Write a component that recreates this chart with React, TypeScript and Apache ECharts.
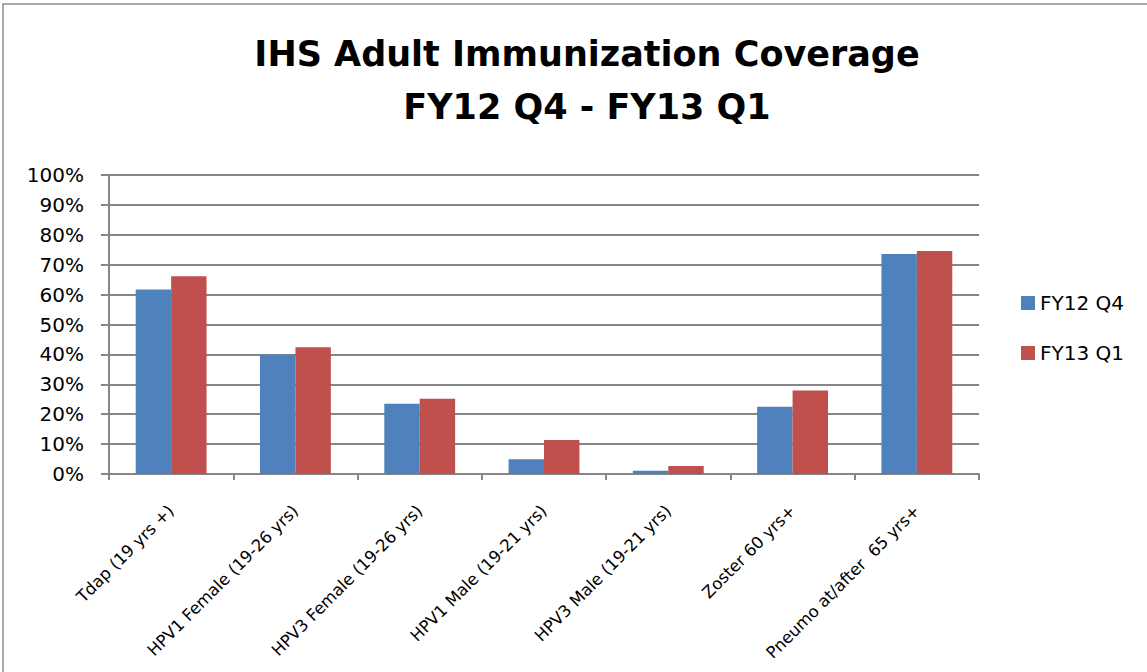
import React, { useEffect, useRef } from "react";
import * as echarts from "echarts";

const categories = [
  "Tdap (19 yrs +)",
  "HPV1 Female (19-26 yrs)",
  "HPV3 Female (19-26 yrs)",
  "HPV1 Male (19-21 yrs)",
  "HPV3 Male (19-21 yrs)",
  "Zoster 60 yrs+",
  "Pneumo at/after  65 yrs+",
];
const fy12q4 = [61.7, 40.0, 23.5, 4.9, 1.1, 22.5, 73.6];
const fy13q1 = [66.1, 42.4, 25.2, 11.4, 2.7, 27.9, 74.6];
const seriesNames = ["FY12 Q4", "FY13 Q1"];
const titleLines = ["IHS Adult Immunization Coverage", "FY12 Q4 - FY13 Q1"];

const FONT = "DejaVu Sans";
const GRAY = "#868686";

export default function App() {
  const ref = useRef<HTMLDivElement>(null);
  useEffect(() => {
    document.body.style.margin = "0";
    const chart = echarts.init(ref.current!, null, { renderer: "svg" });
    chart.setOption({
      animation: false,
      backgroundColor: "#ffffff",
      textStyle: { fontFamily: FONT, color: "#000" },
      title: {
        text: titleLines.join("\n"),
        left: 582,
        textAlign: "center",
        top: 22,
        textStyle: {
          fontFamily: FONT,
          fontWeight: "bold",
          fontSize: 35,
          lineHeight: 53,
          color: "#000",
        },
      },
      legend: {
        orient: "vertical",
        left: 1016,
        top: 288,
        itemWidth: 14,
        itemHeight: 14,
        itemGap: 30,
        icon: "rect",
        textStyle: { fontFamily: FONT, fontSize: 20, color: "#000" },
        data: seriesNames,
      },
      graphic: [
        {
          type: "rect",
          shape: { x: 3, y: 4, width: 1160, height: 690 },
          style: { fill: "none", stroke: "#8c8c8c", lineWidth: 1.5 },
          silent: true,
        },
      ],
      grid: { left: 109, right: 168, top: 175, bottom: 198, containLabel: false },
      xAxis: {
        type: "category",
        data: categories,
        axisLine: { show: true, lineStyle: { color: GRAY, width: 2 } },
        axisTick: { show: true, length: 6, lineStyle: { color: GRAY, width: 2 } },
        axisLabel: {
          rotate: 45,
          interval: 0,
          margin: 34,
          fontFamily: FONT,
          fontSize: 16.5,
          color: "#000",
        },
      },
      yAxis: {
        type: "value",
        min: 0,
        max: 100,
        interval: 10,
        axisLine: { show: true, lineStyle: { color: GRAY, width: 2 } },
        axisTick: { show: true, length: 8, lineStyle: { color: GRAY, width: 2 } },
        splitLine: { show: true, lineStyle: { color: GRAY, width: 2 } },
        axisLabel: {
          margin: 25,
          fontFamily: FONT,
          fontSize: 20,
          color: "#000",
          formatter: (v: number) => `${v}%`,
        },
      },
      series: [
        {
          name: seriesNames[0],
          type: "bar",
          data: fy12q4,
          barGap: "0%",
          barCategoryGap: "43%",
          itemStyle: { color: "#4F81BD" },
        },
        {
          name: seriesNames[1],
          type: "bar",
          data: fy13q1,
          barGap: "0%",
          barCategoryGap: "43%",
          itemStyle: { color: "#C0504D" },
        },
      ],
    });
    return () => chart.dispose();
  }, []);
  return <div ref={ref} style={{ width: 1147, height: 672 }} />;
}
